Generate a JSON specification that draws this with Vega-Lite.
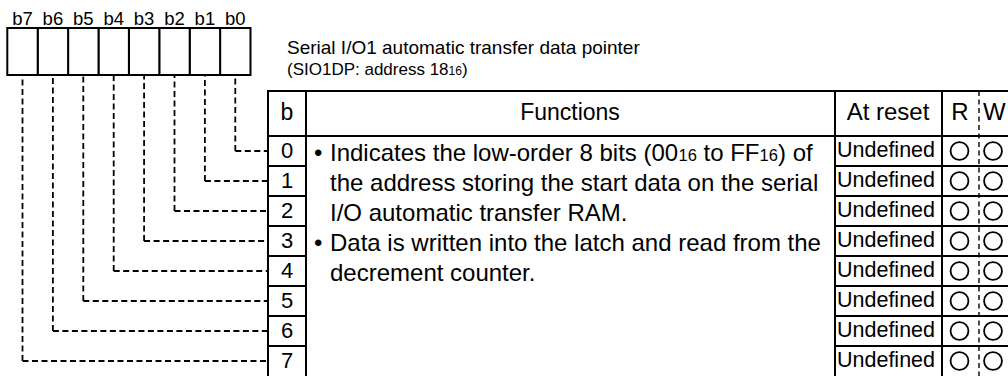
{
  "$schema": "https://vega.github.io/schema/vega-lite/v6.json",
  "width": 1008,
  "height": 376,
  "autosize": "none",
  "padding": 0,
  "background": "white",
  "config": {"view": {"stroke": null}, "axis": {"disable": true}, "text": {"font": "Liberation Sans", "color": "black"}},
  "datasets": {
    "bits": [
      {"bit": 0, "label": "b0", "reset": "Undefined", "read": "O", "write": "O"},
      {"bit": 1, "label": "b1", "reset": "Undefined", "read": "O", "write": "O"},
      {"bit": 2, "label": "b2", "reset": "Undefined", "read": "O", "write": "O"},
      {"bit": 3, "label": "b3", "reset": "Undefined", "read": "O", "write": "O"},
      {"bit": 4, "label": "b4", "reset": "Undefined", "read": "O", "write": "O"},
      {"bit": 5, "label": "b5", "reset": "Undefined", "read": "O", "write": "O"},
      {"bit": 6, "label": "b6", "reset": "Undefined", "read": "O", "write": "O"},
      {"bit": 7, "label": "b7", "reset": "Undefined", "read": "O", "write": "O"}
    ],
    "caption": [
      {"part": 1, "text": "Serial I/O1 automatic transfer data pointer"},
      {"part": 2, "text": "(SIO1DP: address 18"},
      {"part": 3, "text": "16"},
      {"part": 4, "text": ")"}
    ],
    "func0": [
      {"part": 1, "text": "Indicates the low-order 8 bits (00"},
      {"part": 2, "text": "16"},
      {"part": 3, "text": "to FF"},
      {"part": 4, "text": "16"},
      {"part": 5, "text": ") of"}
    ],
    "func": [
      {"line": 1, "text": "the address storing the start data on the serial"},
      {"line": 2, "text": "I/O automatic transfer RAM."},
      {"line": 3, "text": "Data is written into the latch and read from the"},
      {"line": 4, "text": "decrement counter."}
    ],
    "bullets": [{"line": 0}, {"line": 3}],
    "one": [{"k": 1}]
  },
  "resolve": {"scale": {"x": "independent"}},
  "layer": [
    {
      "data": {"name": "bits"},
      "layer": [
        {
          "mark": {"type": "rule", "strokeDash": [6, 3.5], "strokeWidth": 1.8, "color": "black"},
          "encoding": {
            "x": {"field": "bit", "type": "quantitative", "scale": {"domain": [7.74, -25.418], "nice": false, "zero": false, "padding": 0}, "axis": null},
            "y": {"field": "bit", "type": "quantitative", "scale": {"domain": [-5.0333, 7.5], "reverse": true, "nice": false, "zero": false, "padding": 0}, "axis": null},
            "y2": {"datum": -2.5333}
          }
        },
        {
          "mark": {"type": "rule", "strokeDash": [6, 3.5], "strokeWidth": 1.8, "color": "black"},
          "encoding": {
            "x": {"field": "bit", "type": "quantitative", "axis": null},
            "x2": {"datum": -1.0757},
            "y": {"field": "bit", "type": "quantitative", "axis": null}
          }
        },
        {
          "mark": {"type": "bar", "width": 30.4, "fill": "white", "stroke": "black", "strokeWidth": 2},
          "encoding": {
            "x": {"field": "bit", "type": "quantitative", "axis": null},
            "y": {"datum": -4.1, "type": "quantitative", "axis": null},
            "y2": {"datum": -2.5333}
          }
        },
        {
          "mark": {"type": "text", "fontSize": 18.5, "baseline": "alphabetic", "align": "center"},
          "encoding": {
            "x": {"field": "bit", "type": "quantitative", "axis": null},
            "y": {"datum": -4.2, "type": "quantitative", "axis": null},
            "text": {"field": "label"}
          }
        }
      ]
    },
    {
      "data": {"name": "bits"},
      "layer": [
        {"data": {"name": "one"}, "mark": {"type": "rule", "strokeWidth": 2, "color": "black"},
         "encoding": {"x": {"datum": 268, "type": "quantitative", "scale": {"domain": [0, 1008], "nice": false, "zero": false, "padding": 0}, "axis": null}, "y": {"datum": -2.0, "type": "quantitative", "scale": {"domain": [-5.0333, 7.5], "reverse": true, "nice": false, "zero": false, "padding": 0}, "axis": null}, "y2": {"datum": 7.8}}},
        {"data": {"name": "one"}, "mark": {"type": "rule", "strokeWidth": 2, "color": "black"},
         "encoding": {"x": {"datum": 306, "type": "quantitative"}, "y": {"datum": -2.0, "type": "quantitative"}, "y2": {"datum": 7.8}}},
        {"data": {"name": "one"}, "mark": {"type": "rule", "strokeWidth": 2, "color": "black"},
         "encoding": {"x": {"datum": 835, "type": "quantitative"}, "y": {"datum": -2.0, "type": "quantitative"}, "y2": {"datum": 7.8}}},
        {"data": {"name": "one"}, "mark": {"type": "rule", "strokeWidth": 2, "color": "black"},
         "encoding": {"x": {"datum": 942, "type": "quantitative"}, "y": {"datum": -2.0, "type": "quantitative"}, "y2": {"datum": 7.8}}},
        {"data": {"name": "one"}, "mark": {"type": "rule", "strokeWidth": 1.4, "strokeDash": [5, 3.5], "color": "black"},
         "encoding": {"x": {"datum": 979, "type": "quantitative"}, "y": {"datum": -2.0, "type": "quantitative"}, "y2": {"datum": 7.8}}},
        {"data": {"name": "one"}, "mark": {"type": "rule", "strokeWidth": 2, "color": "black"},
         "encoding": {"x": {"datum": 267, "type": "quantitative"}, "x2": {"datum": 1040}, "y": {"datum": -2.0, "type": "quantitative"}}},
        {"data": {"name": "one"}, "mark": {"type": "rule", "strokeWidth": 2, "color": "black"},
         "encoding": {"x": {"datum": 267, "type": "quantitative"}, "x2": {"datum": 1040}, "y": {"datum": -0.5, "type": "quantitative"}}},
        {"transform": [{"filter": "datum.bit > 0"}], "mark": {"type": "rule", "strokeWidth": 2, "color": "black", "yOffset": -15},
         "encoding": {"x": {"datum": 268, "type": "quantitative"}, "x2": {"datum": 306}, "y": {"field": "bit", "type": "quantitative"}}},
        {"transform": [{"filter": "datum.bit > 0"}], "mark": {"type": "rule", "strokeWidth": 2, "color": "black", "yOffset": -15},
         "encoding": {"x": {"datum": 835, "type": "quantitative"}, "x2": {"datum": 1040}, "y": {"field": "bit", "type": "quantitative"}}},
        {"data": {"name": "one"}, "mark": {"type": "text", "text": "b", "fontSize": 23, "align": "center", "baseline": "middle"},
         "encoding": {"x": {"datum": 287, "type": "quantitative"}, "y": {"datum": -1.25, "type": "quantitative"}}},
        {"data": {"name": "one"}, "mark": {"type": "text", "text": "Functions", "fontSize": 23, "align": "center", "baseline": "middle"},
         "encoding": {"x": {"datum": 570, "type": "quantitative"}, "y": {"datum": -1.25, "type": "quantitative"}}},
        {"data": {"name": "one"}, "mark": {"type": "text", "text": "At reset", "fontSize": 24, "align": "center", "baseline": "middle"},
         "encoding": {"x": {"datum": 888, "type": "quantitative"}, "y": {"datum": -1.25, "type": "quantitative"}}},
        {"data": {"name": "one"}, "mark": {"type": "text", "text": "R", "fontSize": 24, "align": "center", "baseline": "middle"},
         "encoding": {"x": {"datum": 960, "type": "quantitative"}, "y": {"datum": -1.25, "type": "quantitative"}}},
        {"data": {"name": "one"}, "mark": {"type": "text", "text": "W", "fontSize": 24, "align": "left", "baseline": "middle"},
         "encoding": {"x": {"datum": 983, "type": "quantitative"}, "y": {"datum": -1.25, "type": "quantitative"}}},
        {"mark": {"type": "text", "fontSize": 22, "align": "center", "baseline": "middle"},
         "encoding": {"x": {"datum": 287, "type": "quantitative"}, "y": {"field": "bit", "type": "quantitative"}, "text": {"field": "bit"}}},
        {"mark": {"type": "text", "fontSize": 21.5, "align": "center", "baseline": "middle"},
         "encoding": {"x": {"datum": 886, "type": "quantitative"}, "y": {"field": "bit", "type": "quantitative"}, "text": {"field": "reset"}}},
        {"mark": {"type": "point", "shape": "circle", "size": 320, "filled": false, "stroke": "black", "strokeWidth": 1.8, "opacity": 1},
         "encoding": {"x": {"datum": 959.5, "type": "quantitative"}, "y": {"field": "bit", "type": "quantitative"}}},
        {"mark": {"type": "point", "shape": "circle", "size": 320, "filled": false, "stroke": "black", "strokeWidth": 1.8, "opacity": 1},
         "encoding": {"x": {"datum": 993, "type": "quantitative"}, "y": {"field": "bit", "type": "quantitative"}}},
        {"data": {"name": "caption"}, "transform": [{"filter": "datum.part == 1"}], "mark": {"type": "text", "fontSize": 19, "align": "left", "baseline": "alphabetic"},
         "encoding": {"x": {"datum": 287, "type": "quantitative"}, "y": {"datum": -3.2333, "type": "quantitative"}, "text": {"field": "text"}}},
        {"data": {"name": "caption"}, "transform": [{"filter": "datum.part == 2"}], "mark": {"type": "text", "fontSize": 17, "align": "left", "baseline": "alphabetic"},
         "encoding": {"x": {"datum": 287, "type": "quantitative"}, "y": {"datum": -2.5167, "type": "quantitative"}, "text": {"field": "text"}}},
        {"data": {"name": "caption"}, "transform": [{"filter": "datum.part == 3"}], "mark": {"type": "text", "fontSize": 12, "align": "left", "baseline": "alphabetic"},
         "encoding": {"x": {"datum": 448.5, "type": "quantitative"}, "y": {"datum": -2.5167, "type": "quantitative"}, "text": {"field": "text"}}},
        {"data": {"name": "caption"}, "transform": [{"filter": "datum.part == 4"}], "mark": {"type": "text", "fontSize": 17, "align": "left", "baseline": "alphabetic"},
         "encoding": {"x": {"datum": 462, "type": "quantitative"}, "y": {"datum": -2.5167, "type": "quantitative"}, "text": {"field": "text"}}},
        {"data": {"name": "bullets"}, "mark": {"type": "text", "text": "•", "fontSize": 24, "align": "left", "baseline": "alphabetic", "dy": 10},
         "encoding": {"x": {"datum": 314, "type": "quantitative"}, "y": {"field": "line", "type": "quantitative"}}},
        {"data": {"name": "func"}, "mark": {"type": "text", "fontSize": 24, "align": "left", "baseline": "alphabetic", "dy": 10},
         "encoding": {"x": {"datum": 330, "type": "quantitative"}, "y": {"field": "line", "type": "quantitative"}, "text": {"field": "text"}}},
        {"data": {"name": "func0"}, "transform": [{"filter": "datum.part == 1"}], "mark": {"type": "text", "fontSize": 24, "align": "left", "baseline": "alphabetic", "dy": 10},
         "encoding": {"x": {"datum": 330, "type": "quantitative"}, "y": {"datum": 0, "type": "quantitative"}, "text": {"field": "text"}}},
        {"data": {"name": "func0"}, "transform": [{"filter": "datum.part == 2"}], "mark": {"type": "text", "fontSize": 16.5, "align": "left", "baseline": "alphabetic", "dy": 10},
         "encoding": {"x": {"datum": 678.5, "type": "quantitative"}, "y": {"datum": 0, "type": "quantitative"}, "text": {"field": "text"}}},
        {"data": {"name": "func0"}, "transform": [{"filter": "datum.part == 3"}], "mark": {"type": "text", "fontSize": 24, "align": "left", "baseline": "alphabetic", "dy": 10},
         "encoding": {"x": {"datum": 703.5, "type": "quantitative"}, "y": {"datum": 0, "type": "quantitative"}, "text": {"field": "text"}}},
        {"data": {"name": "func0"}, "transform": [{"filter": "datum.part == 4"}], "mark": {"type": "text", "fontSize": 16.5, "align": "left", "baseline": "alphabetic", "dy": 10},
         "encoding": {"x": {"datum": 759.5, "type": "quantitative"}, "y": {"datum": 0, "type": "quantitative"}, "text": {"field": "text"}}},
        {"data": {"name": "func0"}, "transform": [{"filter": "datum.part == 5"}], "mark": {"type": "text", "fontSize": 24, "align": "left", "baseline": "alphabetic", "dy": 10},
         "encoding": {"x": {"datum": 778, "type": "quantitative"}, "y": {"datum": 0, "type": "quantitative"}, "text": {"field": "text"}}}
      ]
    }
  ]
}
